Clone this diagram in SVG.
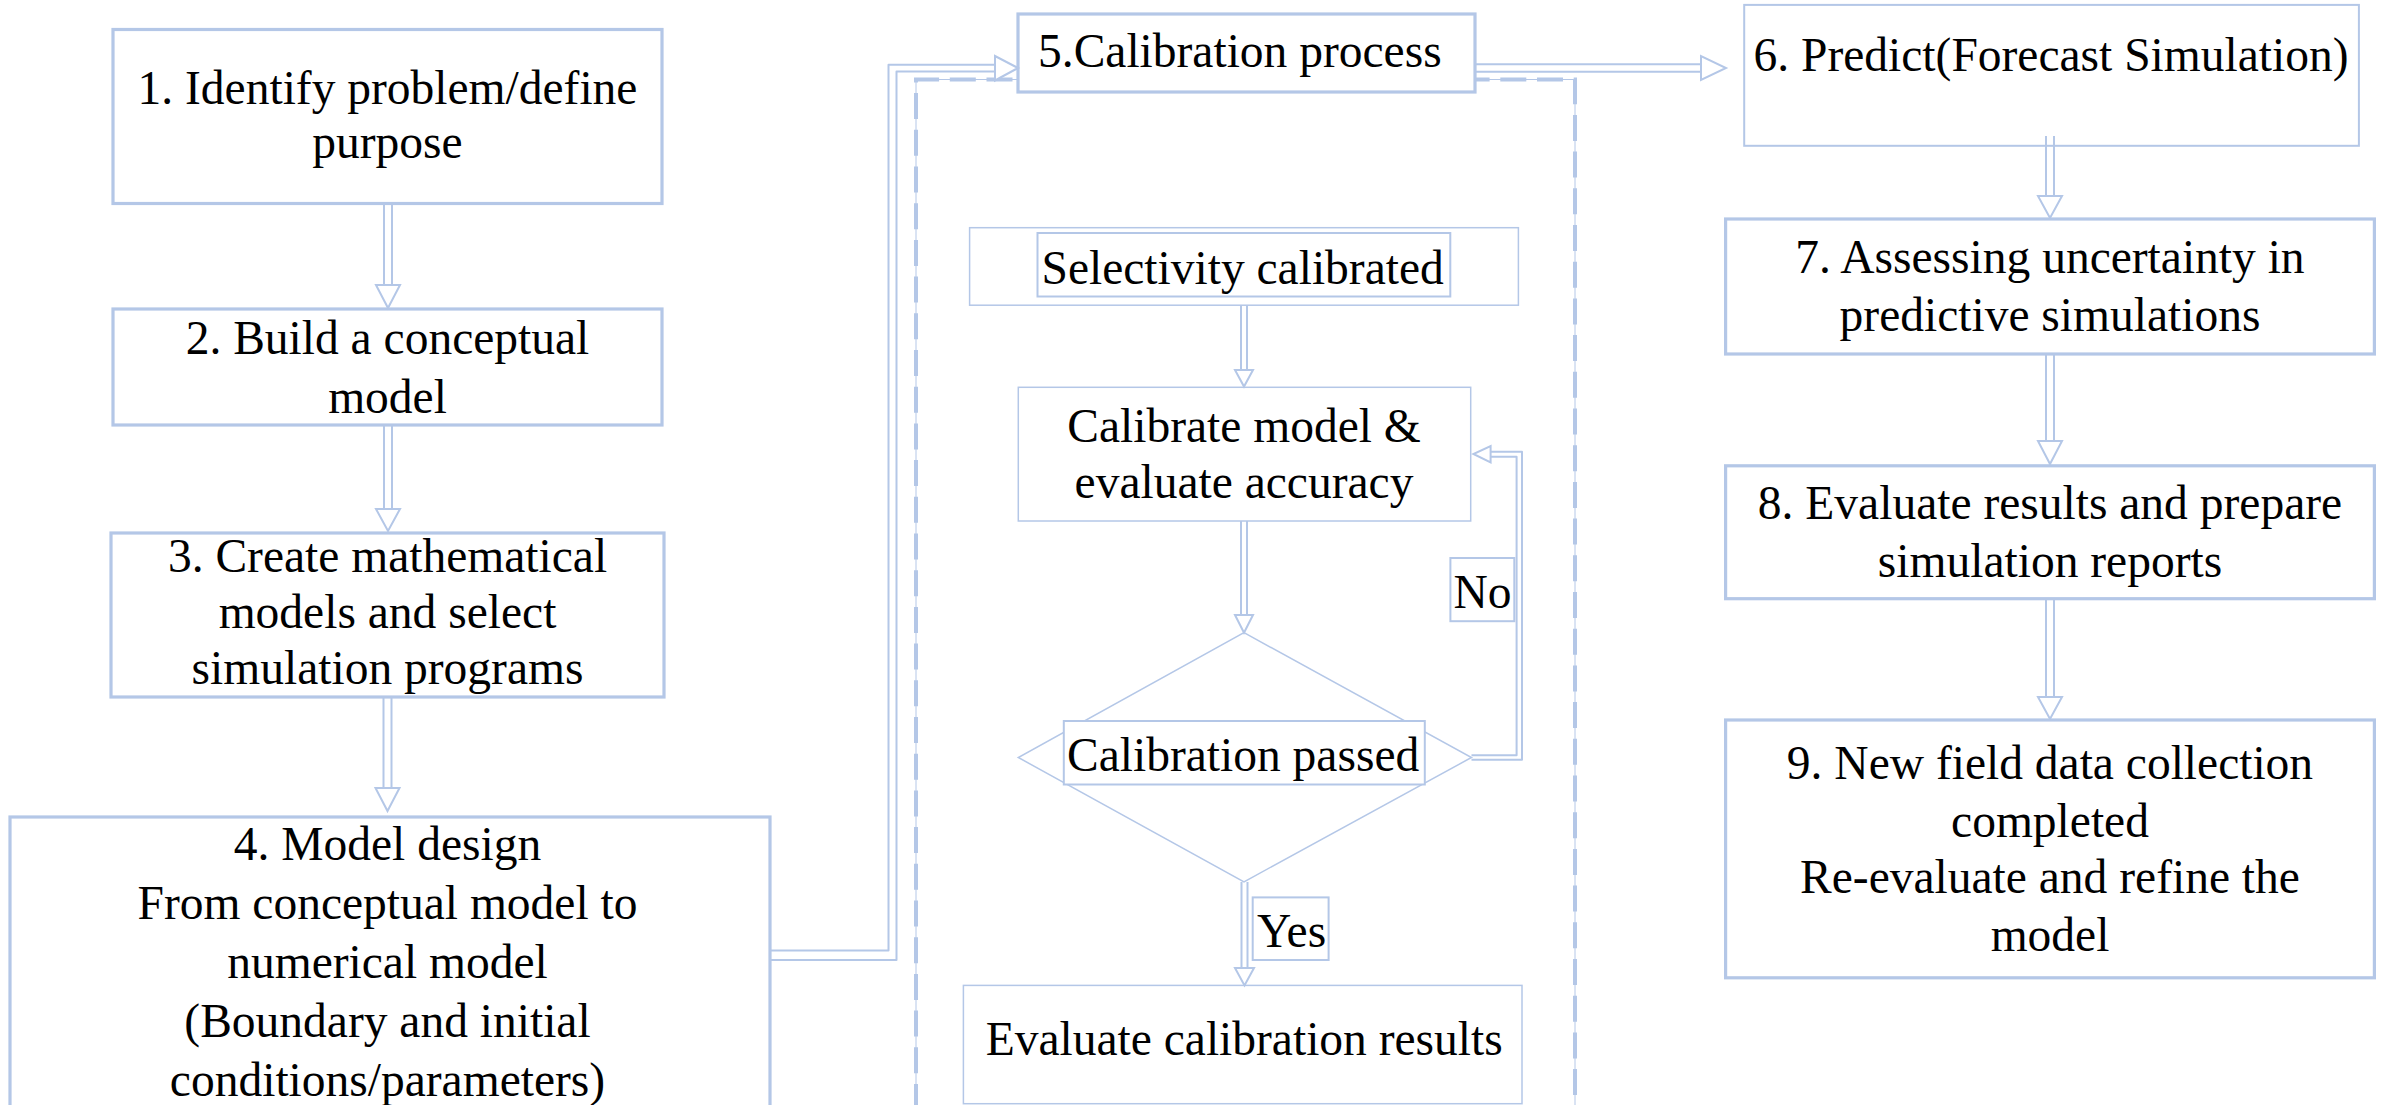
<svg xmlns="http://www.w3.org/2000/svg" width="2387" height="1105" viewBox="0 0 2387 1105">
<style>
  text { font-family: "Liberation Serif", "Times New Roman", serif; font-size: 47.5px; fill: #000; }
  .c { text-anchor: middle; }
  .thick { fill: #fff; stroke: #B4C7E7; stroke-width: 3.2; }
  .mid { fill: #fff; stroke: #B4C7E7; stroke-width: 2; }
  .thin { fill: #fff; stroke: #B4C7E7; stroke-width: 1.5; }
  .dash { fill: none; stroke: #B4C7E7; stroke-width: 4; stroke-dasharray: 26 10.7; }
  .hair { fill: none; stroke: #B4C7E7; stroke-width: 1; }
  .ln { fill: none; stroke: #B4C7E7; stroke-width: 2; stroke-linejoin: round; }
  .hd { fill: #fff; stroke: #B4C7E7; stroke-width: 2; stroke-linejoin: miter; }
</style>
<rect width="2387" height="1105" fill="#fff"/>

<g id="calibration-frame">
  <path class="hair" d="M916,1110 V79.5 H1575 V1110"/>
  <path class="dash" d="M916,1110 V79.5 H1575 V1110"/>
</g>

<g id="node1">
  <rect class="thick" x="113" y="29.5" width="549" height="174"/>
  <text class="c" x="387.5" y="104">1. Identify problem/define</text>
  <text class="c" x="387.5" y="158">purpose</text>
</g>
<g id="node2">
  <rect class="thick" x="113" y="309" width="549" height="116"/>
  <text class="c" x="387.5" y="354">2. Build a conceptual</text>
  <text class="c" x="387.5" y="413">model</text>
</g>
<g id="node3">
  <rect class="thick" x="111" y="533" width="553" height="164"/>
  <text class="c" x="387.5" y="571.5">3. Create mathematical</text>
  <text class="c" x="387.5" y="627.5">models and select</text>
  <text class="c" x="387.5" y="683.5">simulation programs</text>
</g>
<g id="node4">
  <rect class="thick" x="10" y="817" width="760" height="310"/>
  <text class="c" x="387.5" y="860">4. Model design</text>
  <text class="c" x="387.5" y="919">From conceptual model to</text>
  <text class="c" x="387.5" y="978">numerical model</text>
  <text class="c" x="387.5" y="1037">(Boundary and initial</text>
  <text class="c" x="387.5" y="1095.5">conditions/parameters)</text>
</g>
<g id="node5">
  <rect class="thick" x="1018" y="14" width="457" height="78"/>
  <text x="1038" y="67">5.Calibration process</text>
</g>
<g id="node-selectivity">
  <rect class="thin" x="969.6" y="227.7" width="548.8" height="77.5"/>
  <rect class="mid" x="1037.5" y="233" width="412.8" height="63.5"/>
  <text x="1041.5" y="283.5">Selectivity calibrated</text>
</g>
<g id="node-calibrate">
  <rect class="thin" x="1018.3" y="387.3" width="452.4" height="133.7"/>
  <text class="c" x="1244" y="442">Calibrate model &amp;</text>
  <text class="c" x="1244" y="498">evaluate accuracy</text>
</g>
<g id="node-decision">
  <polygon class="thin" points="1244,632.7 1471.5,757.5 1244,881.8 1018.3,757.5"/>
  <rect class="mid" x="1063.8" y="721" width="361" height="63.5"/>
  <text x="1067" y="771">Calibration passed</text>
</g>
<g id="node-evaluate">
  <rect class="thin" x="963.4" y="985.4" width="558.6" height="118.3"/>
  <text x="985.7" y="1054.5">Evaluate calibration results</text>
</g>
<g id="node6">
  <rect class="mid" x="1744.2" y="4.9" width="614.7" height="140.9"/>
  <text class="c" x="2051" y="71">6. Predict(Forecast Simulation)</text>
</g>
<g id="node7">
  <rect class="thick" x="1725.6" y="219" width="648.8" height="135"/>
  <text class="c" x="2050" y="273.3">7. Assessing uncertainty in</text>
  <text class="c" x="2050" y="331">predictive simulations</text>
</g>
<g id="node8">
  <rect class="thick" x="1725.6" y="465.8" width="648.8" height="132.9"/>
  <text class="c" x="2050" y="519">8. Evaluate results and prepare</text>
  <text class="c" x="2050" y="577">simulation reports</text>
</g>
<g id="node9">
  <rect class="thick" x="1725.6" y="720" width="648.8" height="257.8"/>
  <text class="c" x="2050" y="779">9. New field data collection</text>
  <text class="c" x="2050" y="837">completed</text>
  <text class="c" x="2050" y="893">Re-evaluate and refine the</text>
  <text class="c" x="2050" y="951">model</text>
</g>

<g id="connectors">
  <!-- 1 to 2 -->
  <path class="ln" d="M384,204 V285 M392,204 V285"/>
  <polygon class="hd" points="376,285 400,285 388,308"/>
  <!-- 2 to 3 -->
  <path class="ln" d="M384,425 V509 M392,425 V509"/>
  <polygon class="hd" points="376,509 400,509 388,531"/>
  <!-- 3 to 4 -->
  <path class="ln" d="M383.5,697 V788 M391.5,697 V788"/>
  <polygon class="hd" points="375.5,788 399.5,788 387.5,811"/>
  <!-- 4 to 5 -->
  <path class="ln" d="M770,950.5 H888.5 V64.7 H995"/>
  <path class="ln" d="M770,960 H896.5 V71.4 H995"/>
  <polygon class="hd" points="995,56 995,80.5 1018,68"/>
  <!-- 5 to 6 -->
  <path class="ln" d="M1475,64.3 H1701 M1475,71.7 H1701"/>
  <polygon class="hd" points="1701,56 1701,80 1726,68"/>
  <!-- 6 to 7 -->
  <path class="ln" d="M2046,136 V196 M2054,136 V196"/>
  <polygon class="hd" points="2038,196 2062,196 2050,218"/>
  <!-- 7 to 8 -->
  <path class="ln" d="M2046,354 V441 M2054,354 V441"/>
  <polygon class="hd" points="2038,441 2062,441 2050,464"/>
  <!-- 8 to 9 -->
  <path class="ln" d="M2046,599 V697 M2054,599 V697"/>
  <polygon class="hd" points="2038,697 2062,697 2050,719"/>
  <!-- selectivity to calibrate -->
  <path class="ln" d="M1241,305 V370 M1247,305 V370"/>
  <polygon class="hd" points="1235,370 1253,370 1244,386.6"/>
  <!-- calibrate to decision -->
  <path class="ln" d="M1241,521 V615 M1247,521 V615"/>
  <polygon class="hd" points="1235,615 1253,615 1244,632.7"/>
  <!-- decision to evaluate (Yes) -->
  <path class="ln" d="M1241.5,882 V968 M1247.5,882 V968"/>
  <polygon class="hd" points="1235,968 1254,968 1244.5,985.4"/>
  <!-- No loop -->
  <path class="ln" d="M1471.5,759.8 H1522 V451.7 H1490.6"/>
  <path class="ln" d="M1471.5,755.2 H1516.6 V456.7 H1490.6"/>
  <polygon class="hd" points="1490.6,446 1490.6,462.4 1473.4,454"/>
  <!-- labels -->
  <g id="label-yes">
    <rect class="mid" x="1252.7" y="897.4" width="75.9" height="62.6"/>
    <text x="1257" y="946.5">Yes</text>
  </g>
  <g id="label-no">
    <rect class="mid" x="1450.4" y="558" width="63.9" height="63.2"/>
    <text x="1453.5" y="608">No</text>
  </g>
</g>
</svg>
